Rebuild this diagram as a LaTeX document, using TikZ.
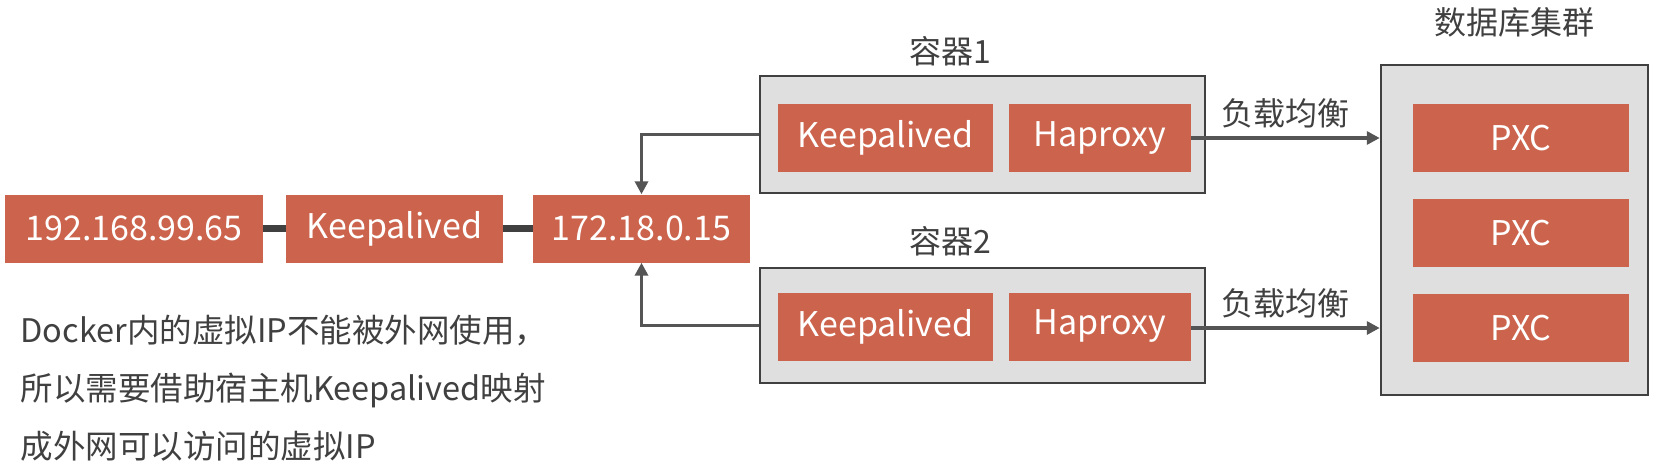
\documentclass[tikz,border=0pt]{standalone}
\usepackage{fontspec}
\setmainfont{Noto Sans CJK SC}
\usepackage{tikz}
\usetikzlibrary{positioning, arrows.meta, calc}
\definecolor{boxred}{RGB}{204, 99, 76}
\definecolor{panelgray}{RGB}{223, 223, 223}
\definecolor{linegray}{RGB}{85, 85, 85}
\definecolor{textgray}{RGB}{64, 64, 64}

\begin{document}
\begin{tikzpicture}[x=1pt, y=-1pt,
  redbox/.style={fill=boxred, text=white, inner sep=0pt, minimum height=68pt, font=\fontsize{34}{40}\selectfont},
  panel/.style={draw=textgray, fill=panelgray, line width=2.5pt, inner sep=0pt},
  label/.style={text=textgray, font=\fontsize{32}{38}\selectfont},
  link/.style={-{Triangle[length=13pt, width=13pt]}, line width=3.8pt, color=linegray}]

  \useasboundingbox (0,0) rectangle (1660,471);

  % --- Endereços na cadeia do host ---
  \node[redbox, minimum width=258pt] (hostip) at (134, 228.5) {192.168.99.65};
  \node[redbox, minimum width=217pt] (hostka) at (394.5, 228.5) {Keepalived};
  \node[redbox, minimum width=217pt] (dockerip) at (641.5, 228.5) {172.18.0.15};
  \draw[line width=7pt, color=textgray] (hostip.east) -- (hostka.west);
  \draw[line width=7pt, color=textgray] (hostka.east) -- (dockerip.west);

  % --- Contêiner 1 ---
  \node[panel, minimum width=445pt, minimum height=117pt] (cont1) at (982.5, 134.5) {};
  \node[label] (cont1lbl) at (950, 51) {容器1};
  \node[redbox, minimum width=215pt] (ka1) at (885.5, 138) {Keepalived};
  \node[redbox, minimum width=182pt] (hp1) at (1100, 138) {Haproxy};

  % --- Contêiner 2 ---
  \node[panel, minimum width=445pt, minimum height=115pt] (cont2) at (982.5, 325.5) {};
  \node[label] (cont2lbl) at (950, 241) {容器2};
  \node[redbox, minimum width=215pt] (ka2) at (885.5, 326.5) {Keepalived};
  \node[redbox, minimum width=182pt] (hp2) at (1100, 326.5) {Haproxy};

  % --- Cluster de banco de dados ---
  \node[panel, minimum width=267pt, minimum height=330pt] (db) at (1514.5, 230) {};
  \node[label] (dblbl) at (1514, 22) {数据库集群};
  \node[redbox, minimum width=216pt] (pxc1) at (1521, 138) {PXC};
  \node[redbox, minimum width=216pt] (pxc2) at (1521, 233) {PXC};
  \node[redbox, minimum width=216pt] (pxc3) at (1521, 328) {PXC};

  % Setas de balanceamento
  \draw[link] (hp1.east) -- (hp1.east -| db.west) node[midway, above=5pt, label] (lb1) {负载均衡};
  \draw[link] (hp2.east |- pxc3.center) -- (pxc3.center -| db.west) node[midway, above=5pt, label] (lb2) {负载均衡};

  % Setas dos contêineres para o IP virtual
  \draw[link] (cont1.west) -| (dockerip.north);
  \draw[link] (cont2.west) -| (dockerip.south);

  % Nota explicativa
  \node[label, anchor=west, align=left, font=\fontsize{32.5}{58}\selectfont] (note) at (17, 388)
    {Docker内的虚拟IP不能被外网使用，\\所以需要借助宿主机Keepalived映射\\成外网可以访问的虚拟IP};

\end{tikzpicture}
\end{document}
